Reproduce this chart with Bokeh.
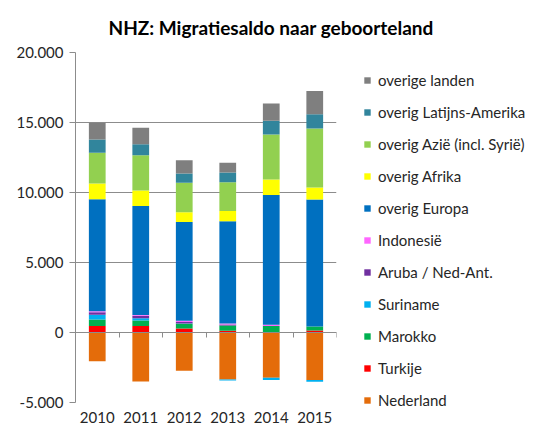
import numpy as np
from bokeh.plotting import figure
from bokeh.models import (Range1d, LinearAxis, FixedTicker, Legend, LegendItem, Title)
from bokeh.embed import file_html
from bokeh.resources import INLINE

years = ["2010", "2011", "2012", "2013", "2014", "2015"]

# series from bottom of stack to top
nederland = [-2050, -3500, -2740, -3350, -3240, -3400]
turkije = [456, 456, 285, 120, 30, 140]
marokko = [470, 400, 333, 380, 430, 285]
suriname = [333, 166, 30, -70, -160, -120]
aruba = [190, 166, 100, 70, 0, 0]
indonesie = [70, 70, 100, 70, 95, 0]
europa = [7990, 7770, 7040, 7300, 9260, 9080]
afrika = [1140, 1120, 710, 730, 1120, 850]
azie = [2190, 2520, 2100, 2070, 3210, 4210]
latam = [950, 780, 660, 690, 975, 1020]
overige = [1190, 1170, 950, 690, 1240, 1670]

series_names = ["Nederland", "Turkije", "Marokko", "Suriname", "Aruba / Ned-Ant.",
                "Indonesië", "overig Europa", "overig Afrika",
                "overig Azië (incl. Syrië)", "overig Latijns-Amerika", "overige landen"]
series_values = [nederland, turkije, marokko, suriname, aruba, indonesie,
                 europa, afrika, azie, latam, overige]
colors = ["#E46C0A", "#FF0000", "#00B050", "#00B0F0", "#7030A0", "#FF66FF",
          "#0070C0", "#FFFF00", "#92D050", "#31859C", "#7F7F7F"]

y_ticks = [-5000, 0, 5000, 10000, 15000, 20000]
y_tick_labels = ["-5.000", "0", "5.000", "10.000", "15.000", "20.000"]

FONT = "Lato"
TXT = "#262626"
GRID = "#8C8C8C"

p = figure(frame_width=261, frame_height=350, output_backend="svg", toolbar_location=None,
           x_range=Range1d(-0.5, len(years) - 0.5), y_range=Range1d(-5000, 20000),
           x_axis_location=None, y_axis_location=None,
           min_border_left=0, min_border_right=0, min_border_top=0,
           min_border_bottom=0)
p.outline_line_color = None
p.xgrid.grid_line_color = None

# y axis (an invisible blank axis label adds a little left padding)
yax = LinearAxis(ticker=FixedTicker(ticks=y_ticks),
                 major_label_overrides={t: l for t, l in zip(y_ticks, y_tick_labels)})
yax.axis_line_color = GRID
yax.major_tick_line_color = GRID
yax.major_tick_out = 6
yax.major_tick_in = 0
yax.minor_tick_line_color = None
yax.major_label_text_font = FONT
yax.major_label_text_font_size = "15px"
yax.major_label_text_color = TXT
yax.major_label_standoff = 6
yax.axis_label = " "
yax.axis_label_text_font_size = "9px"
yax.axis_label_standoff = 0
yax.axis_label_text_alpha = 0
p.add_layout(yax, "left")
p.ygrid.ticker = FixedTicker(ticks=y_ticks)
p.ygrid.grid_line_color = GRID

# x labels
idx = list(range(len(years)))
xax = LinearAxis(ticker=FixedTicker(ticks=idx),
                 major_label_overrides={i: y for i, y in enumerate(years)})
xax.axis_line_color = None
xax.major_tick_line_color = None
xax.minor_tick_line_color = None
xax.major_label_text_font = FONT
xax.major_label_text_font_size = "15px"
xax.major_label_text_color = TXT
xax.major_label_standoff = 3
p.add_layout(xax, "below")

# zero axis with ticks between categories
zax = LinearAxis(ticker=FixedTicker(ticks=[i + 0.5 for i in idx]), fixed_location=0,
                 major_label_overrides={i + 0.5: "" for i in idx})
zax.axis_line_color = GRID
zax.major_tick_line_color = GRID
zax.major_tick_in = 5
zax.major_tick_out = 0
zax.minor_tick_line_color = None
zax.major_label_standoff = 0
p.add_layout(zax, "above")

# stacked bars
pos = np.zeros(len(years))
neg = np.zeros(len(years))
items = []
for name, vals, col in zip(series_names, series_values, colors):
    v = np.array(vals, dtype=float)
    bottom = np.where(v >= 0, pos, neg)
    top = bottom + v
    pos = np.where(v >= 0, top, pos)
    neg = np.where(v < 0, top, neg)
    r = p.vbar(x=idx, bottom=bottom, top=top, width=0.385, fill_color=col,
               line_color=None)
    items.append(LegendItem(label=name, renderers=[r]))

legend = Legend(items=items[::-1], location=(27, -7))
legend.glyph_width = 8
legend.glyph_height = 8
legend.label_height = 16
legend.spacing = 14
legend.padding = 0
legend.margin = 0
legend.label_standoff = 7
legend.label_text_font = FONT
legend.label_text_font_size = "15px"
legend.label_text_color = TXT
legend.border_line_color = None
legend.background_fill_alpha = 0
p.add_layout(legend, "right")

title = Title(text="NHZ: Migratiesaldo naar geboorteland", align="left",
              text_font=FONT, text_font_size="19px", text_font_style="bold",
              text_color="#000000", offset=33, standoff=27)
p.add_layout(title, "above")

open("out.html", "w").write(file_html(p, INLINE))
